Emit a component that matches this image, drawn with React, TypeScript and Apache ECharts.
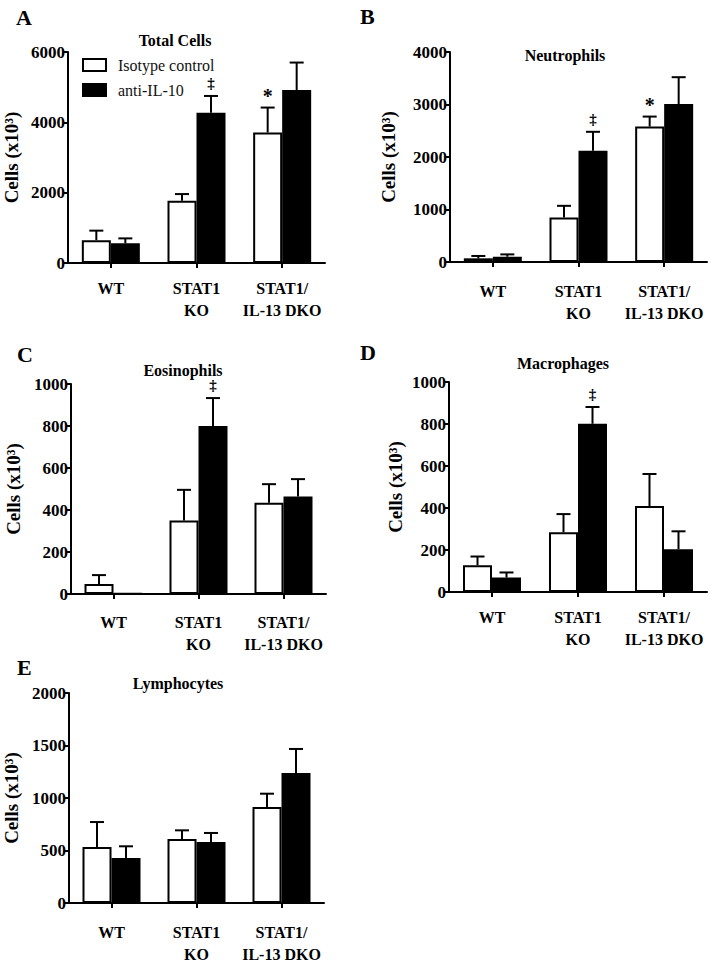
import React, { useEffect, useRef } from "react";
import * as echarts from "echarts";

const categories = ["WT", "STAT1\nKO", "STAT1/\nIL-13 DKO"];
const seriesNames = ["Isotype control", "anti-IL-10"];

// A: Total cells
const totalIso = [650, 1770, 3710];
const totalIsoSem = [270, 190, 710];
const totalAnti = [560, 4270, 4920];
const totalAntiSem = [140, 480, 780];
const totalIsoSig = ["", "", "*"];
const totalAntiSig = ["", "‡", ""];

// B: Neutrophils
const neutIso = [70, 850, 2580];
const neutIsoSem = [45, 220, 190];
const neutAnti = [100, 2120, 3010];
const neutAntiSem = [45, 360, 510];
const neutIsoSig = ["", "", "*"];
const neutAntiSig = ["", "‡", ""];

// C: Eosinophils
const eosIso = [48, 350, 435];
const eosIsoSem = [42, 146, 88];
const eosAnti = [3, 800, 464];
const eosAntiSem = [0, 133, 83];
const eosIsoSig = ["", "", ""];
const eosAntiSig = ["", "‡", ""];

// D: Macrophages
const macIso = [127, 284, 409];
const macIsoSem = [42, 87, 153];
const macAnti = [69, 801, 204];
const macAntiSem = [24, 80, 85];
const macIsoSig = ["", "", ""];
const macAntiSig = ["", "‡", ""];

// E: Lymphocytes
const lymIso = [533, 610, 914];
const lymIsoSem = [238, 82, 127];
const lymAnti = [429, 581, 1238];
const lymAntiSem = [111, 86, 229];
const lymIsoSig = ["", "", ""];
const lymAntiSig = ["", "", ""];

const yMax = [6000, 4000, 1000, 1000, 2000];
const yInterval = [2000, 1000, 200, 200, 500];
const panelTitles = ["Total Cells", "Neutrophils", "Eosinophils", "Macrophages", "Lymphocytes"];
const panelLetters = ["A", "B", "C", "D", "E"];

const SERIF = "'Liberation Serif', 'Times New Roman', Times, serif";
const BAR_W = 29;

const panels = [
  { iso: totalIso, isoSem: totalIsoSem, anti: totalAnti, antiSem: totalAntiSem, isoSig: totalIsoSig, antiSig: totalAntiSig },
  { iso: neutIso, isoSem: neutIsoSem, anti: neutAnti, antiSem: neutAntiSem, isoSig: neutIsoSig, antiSig: neutAntiSig },
  { iso: eosIso, isoSem: eosIsoSem, anti: eosAnti, antiSem: eosAntiSem, isoSig: eosIsoSig, antiSig: eosAntiSig },
  { iso: macIso, isoSem: macIsoSem, anti: macAnti, antiSem: macAntiSem, isoSig: macIsoSig, antiSig: macAntiSig },
  { iso: lymIso, isoSem: lymIsoSem, anti: lymAnti, antiSem: lymAntiSem, isoSig: lymIsoSig, antiSig: lymAntiSig },
];

// layout (page coordinates)
const grids = [
  { left: 68, top: 52, width: 257, height: 211 },
  { left: 450, top: 52, width: 257, height: 210 },
  { left: 71, top: 384, width: 255, height: 210 },
  { left: 449, top: 382, width: 258, height: 210 },
  { left: 69, top: 693, width: 255, height: 210 },
];
const nameGaps = [47, 52, 48, 44, 48];
const labelMargins = [14, 18, 17, 14, 18];
const titlePos = [
  [175, 40],
  [565, 55],
  [183, 370],
  [563, 363],
  [178, 683],
];
const letterPos = [
  [16, 17],
  [360, 16],
  [17, 354],
  [360, 352],
  [17, 667],
];

function errorSeries(gi: number, mean: number[], sem: number[], sig: string[], side: number) {
  return {
    type: "custom",
    xAxisIndex: gi,
    yAxisIndex: gi,
    z: 5,
    silent: true,
    data: mean.map((m, i) => [i, m, sem[i]]),
    renderItem: (params: any, api: any) => {
      const cat = api.value(0);
      const m = api.value(1);
      const s = api.value(2);
      const base = api.coord([cat, m]);
      const top = api.coord([cat, m + s]);
      const x = base[0] + side * (BAR_W / 2);
      const children: any[] = [];
      if (s > 0) {
        children.push({
          type: "line",
          shape: { x1: x, y1: base[1], x2: x, y2: top[1] },
          style: { stroke: "#000", lineWidth: 2 },
        });
        children.push({
          type: "line",
          shape: { x1: x - 7, y1: top[1], x2: x + 7, y2: top[1] },
          style: { stroke: "#000", lineWidth: 2 },
        });
      }
      const mark = sig[params.dataIndex];
      if (mark) {
        const star = mark === "*";
        children.push({
          type: "text",
          x: x,
          y: top[1] - (star ? 12 : 13),
          style: {
            text: mark,
            fontFamily: SERIF,
            fontWeight: "bold",
            fontSize: star ? 20 : 15,
            fill: "#000",
            align: "center",
            verticalAlign: "middle",
          },
        });
      }
      return { type: "group", children };
    },
  };
}

export default function App() {
  const ref = useRef<HTMLDivElement>(null);
  useEffect(() => {
    if (!ref.current) return;
    const chart = echarts.init(ref.current, undefined, { renderer: "svg" });

    const series: any[] = [];
    panels.forEach((p, gi) => {
      series.push({
        name: seriesNames[0],
        type: "bar",
        xAxisIndex: gi,
        yAxisIndex: gi,
        data: p.iso,
        barWidth: BAR_W,
        barGap: "0%",
        itemStyle: { color: "#fff", borderColor: "#000", borderWidth: 2 },
      });
      series.push({
        name: seriesNames[1],
        type: "bar",
        xAxisIndex: gi,
        yAxisIndex: gi,
        data: p.anti,
        barWidth: BAR_W,
        barGap: "0%",
        itemStyle: { color: "#000", borderColor: "#000", borderWidth: 2 },
      });
      series.push(errorSeries(gi, p.iso, p.isoSem, p.isoSig, -1));
      series.push(errorSeries(gi, p.anti, p.antiSem, p.antiSig, 1));
    });

    const graphics: any[] = [];
    panelTitles.forEach((t, i) => {
      graphics.push({
        type: "text",
        x: titlePos[i][0],
        y: titlePos[i][1],
        style: {
          text: t,
          fontFamily: SERIF,
          fontWeight: "bold",
          fontSize: 16,
          fill: "#000",
          align: "center",
          verticalAlign: "middle",
        },
      });
    });
    panelLetters.forEach((t, i) => {
      graphics.push({
        type: "text",
        x: letterPos[i][0],
        y: letterPos[i][1],
        style: {
          text: t,
          fontFamily: SERIF,
          fontWeight: "bold",
          fontSize: 22,
          fill: "#000",
          align: "left",
          verticalAlign: "middle",
        },
      });
    });

    chart.setOption({
      animation: false,
      backgroundColor: "#fff",
      legend: {
        data: seriesNames,
        orient: "vertical",
        left: 77,
        top: 52,
        itemWidth: 23,
        itemHeight: 12,
        itemGap: 9,
        icon: "rect",
        textStyle: { fontFamily: SERIF, fontSize: 16, color: "#111", padding: [0, 0, 0, 7] },
        selectedMode: false,
      },
      grid: grids.map((g) => ({ ...g, containLabel: false })),
      xAxis: grids.map((_, gi) => ({
        type: "category",
        gridIndex: gi,
        data: categories,
        axisLine: { show: true, lineStyle: { color: "#000", width: 2 } },
        axisTick: { show: true, alignWithLabel: true, length: 5, lineStyle: { color: "#000", width: 2 } },
        axisLabel: {
          fontFamily: SERIF,
          fontWeight: "bold",
          fontSize: 16,
          lineHeight: 22,
          color: "#000",
          margin: labelMargins[gi],
          interval: 0,
        },
        splitLine: { show: false },
      })),
      yAxis: grids.map((_, gi) => ({
        type: "value",
        gridIndex: gi,
        min: 0,
        max: yMax[gi],
        interval: yInterval[gi],
        name: "Cells (x10³)",
        nameLocation: "middle",
        nameGap: nameGaps[gi],
        nameTextStyle: { fontFamily: SERIF, fontWeight: "bold", fontSize: 19, color: "#000" },
        axisLine: { show: true, lineStyle: { color: "#000", width: 2 } },
        axisTick: { show: true, length: 4, lineStyle: { color: "#000", width: 2 } },
        axisLabel: {
          fontFamily: SERIF,
          fontWeight: "bold",
          fontSize: 17,
          color: "#000",
          margin: 3,
          formatter: (v: number) => String(v),
        },
        splitLine: { show: false },
      })),
      series,
      graphic: graphics,
    });
    return () => chart.dispose();
  }, []);

  return (
    <div
      ref={ref}
      style={{ position: "absolute", left: 0, top: 0, width: 714, height: 965, background: "#fff" }}
    />
  );
}
